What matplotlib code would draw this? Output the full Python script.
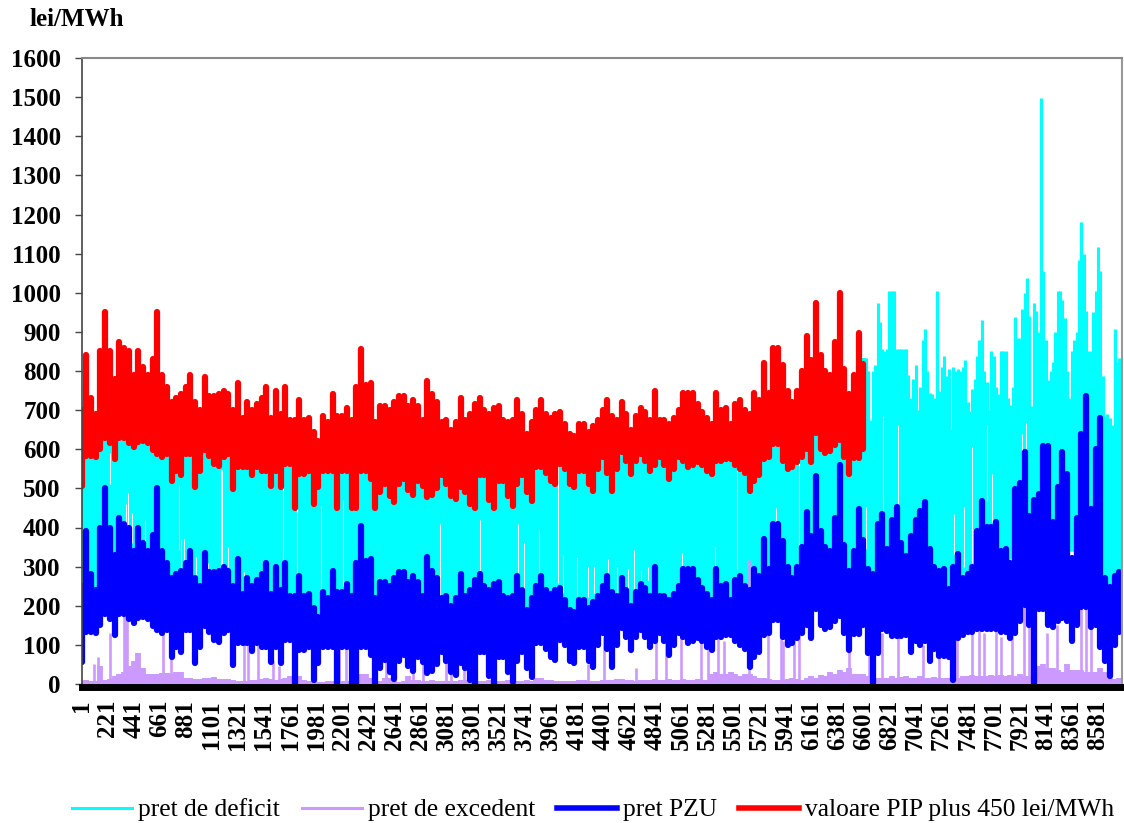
import numpy as np
import matplotlib
matplotlib.use('Agg')
import matplotlib.pyplot as plt
from matplotlib.lines import Line2D

plt.rcParams['font.family'] = ['Liberation Serif', 'DejaVu Serif']

# envelope of each series, one high/low pair per sample
pzu_hi = [250,390,280,240,400,500,400,330,425,410,
          400,340,400,360,340,380,500,340,310,270,
          280,290,310,340,270,250,335,285,285,290,
          300,290,250,320,230,270,250,265,280,310,
          230,300,240,310,225,225,275,225,230,195,
          170,235,220,290,235,235,255,225,310,405,
          315,320,220,260,260,250,270,285,285,260,
          275,260,225,325,290,270,220,225,200,220,
          280,225,240,265,280,250,240,255,260,225,
          220,225,275,240,190,220,250,275,240,230,
          240,245,215,190,185,215,215,195,210,225,
          250,275,235,225,270,240,200,235,255,245,
          225,300,225,225,215,230,250,295,295,295,
          265,245,230,215,295,250,255,215,265,275,
          250,240,295,275,370,295,410,410,365,300,
          270,300,350,440,378,532,390,350,340,424,
          560,355,290,340,447,367,293,282,410,435,
          344,420,452,361,327,378,420,441,464,344,
          300,290,293,242,300,333,270,282,300,390,
          469,401,401,413,339,344,310,498,515,594,
          430,470,486,608,608,413,503,594,537,322,
          424,640,737,447,600,680,270,248,276,287]
pzu_lo = [57,134,134,130,150,180,165,125,180,180,
          165,155,168,172,165,147,138,130,138,70,
          95,83,138,138,53,95,147,134,112,108,
          130,138,49,104,104,104,85,104,95,95,
          57,95,53,112,112,0,87,87,95,10,
          53,95,95,95,0,95,95,0,0,95,
          95,74,0,40,61,30,14,60,74,45,
          32,70,55,27,32,50,83,60,30,23,
          53,40,10,0,83,83,20,0,70,70,
          30,6,60,83,40,19,104,104,90,70,
          61,112,100,60,53,95,95,60,44,100,
          130,90,44,100,142,120,87,120,138,120,
          95,110,130,110,74,100,130,120,104,110,
          117,110,95,87,121,121,125,125,110,100,
          90,44,70,83,125,130,164,164,120,100,
          105,117,130,150,117,191,150,140,145,160,
          174,130,88,128,128,151,80,3,80,140,
          135,123,123,123,125,83,110,100,110,60,
          90,72,72,70,9,117,125,134,134,140,
          140,140,140,140,134,134,117,130,162,202,
          150,3,191,191,150,145,160,168,160,111,
          150,196,196,145,150,94,60,20,100,134]

pip_hi = [700,840,730,690,850,950,850,780,875,860,
          850,790,850,810,790,830,950,790,760,720,
          730,740,760,790,720,700,785,735,735,740,
          750,740,700,770,680,720,700,715,730,760,
          680,750,690,760,675,675,725,675,680,645,
          620,685,670,740,685,685,705,675,760,855,
          765,770,670,710,710,700,720,735,735,710,
          725,710,675,775,740,720,670,675,650,670,
          730,675,690,715,730,700,690,705,710,675,
          670,675,725,690,640,670,700,725,690,680,
          690,695,665,640,635,665,665,645,660,675,
          700,725,685,675,720,690,650,685,705,695,
          675,750,675,675,665,680,700,745,745,745,
          715,695,680,665,745,700,705,665,715,725,
          700,690,745,725,820,745,860,860,815,750,
          720,750,800,890,828,975,840,800,790,874,
          1000,805,740,790,897,817]
pip_lo = [507,584,584,580,600,630,615,575,630,630,
          615,605,618,622,615,597,588,580,588,520,
          545,533,588,588,503,545,597,584,562,558,
          580,588,499,554,554,554,535,554,545,545,
          507,545,503,562,562,450,537,537,545,460,
          503,545,545,545,450,545,545,450,450,545,
          545,524,450,490,511,480,464,510,524,495,
          482,520,505,477,482,500,533,510,480,473,
          503,490,460,450,533,533,470,450,520,520,
          480,456,510,533,490,469,554,554,540,520,
          511,562,550,510,503,545,545,510,494,550,
          580,540,494,550,592,570,537,570,588,570,
          545,560,580,560,524,550,580,570,554,560,
          567,560,545,537,571,571,575,575,560,550,
          540,494,520,533,575,580,614,614,570,550,
          555,567,580,600,567,641,600,590,595,610,
          624,580,538,578,578,601]

# deficit price: first part mostly sits behind the red band
deficit_hi_a = [640,650,650,640,660,680,660,650,680,680,
                680,670,680,670,660,660,680,650,640,630,
                630,640,640,650,630,620,650,640,640,640,
                640,640,620,640,620,620,620,630,630,640,
                610,630,610,630,610,610,620,610,610,600,
                590,610,610,630,610,610,620,600,640,680,
                640,650,600,620,620,610,620,630,630,620,
                620,620,600,640,620,620,600,600,590,600,
                620,600,610,620,620,610,610,620,620,600,
                600,600,620,610,590,600,610,620,610,610,
                610,610,600,590,590,600,600,590,600,600,
                620,630,610,600,620,610,590,610,620,620,
                610,640,620,610,610,620,620,640,640,640,
                630,620,620,610,640,630,630,620,640,640,
                640,620,660,650,700,680,720,740,700,650,
                720,730,690,760,770,820,840,790,760,810,
                840,800,700,780,840,833]
deficit_lo_a = [190,190,190,190,190,190,190,190,190,190,
                190,190,190,190,190,190,190,190,190,190,
                200,200,190,190,190,190,190,190,190,190,
                190,190,190,190,190,190,190,190,190,190,
                190,190,190,190,190,190,190,190,190,190,
                180,190,190,190,190,190,190,190,190,190,
                190,190,190,190,190,190,190,190,190,190,
                190,190,190,190,190,190,190,190,190,190,
                190,190,190,190,190,190,190,190,190,190,
                190,190,190,190,190,190,190,190,190,190,
                190,190,190,190,190,190,190,190,190,190,
                190,190,190,190,190,190,190,190,190,190,
                190,190,190,190,190,190,190,190,190,190,
                190,190,190,190,190,190,190,190,190,190,
                190,190,190,190,190,190,190,190,190,190,
                190,190,190,190,190,190,190,190,190,190,
                190,190,190,190,190,190]
# second part, after the red band stops, read at a finer step
deficit_hi_b = [833,833,800,674,800,815,975,924,856,850,
                856,1004,1004,1004,856,856,856,856,856,790,
                731,780,816,700,760,880,907,800,745,740,
                730,1004,750,810,839,788,805,651,810,800,
                805,800,810,827,720,697,754,780,839,880,
                930,800,771,700,850,839,760,740,850,850,
                850,730,714,760,938,884,884,958,1000,1038,
                941,710,975,953,900,1498,1055,879,776,800,
                822,900,1004,1004,981,936,800,730,850,879,
                900,1083,1180,1100,953,850,850,950,1004,1117,
                1055,788,685,691,680,663,907,822,833,833]
deficit_lo_b = [300,300,300,280,280,280,280,280,280,280,
                280,280,280,280,280,280,280,280,280,280,
                280,280,280,280,280,280,280,280,280,280,
                260,260,250,250,240,250,250,260,260,260,
                260,260,280,280,280,280,280,280,300,300,
                300,300,300,300,300,280,280,280,280,280,
                280,300,320,340,340,340,340,340,340,340,
                340,340,340,340,340,340,340,340,340,340,
                340,340,340,340,340,340,340,340,340,340,
                340,340,340,340,340,340,340,340,300,300,
                260,250,250,250,250,250,250,250,250,250]

# short drops of the deficit price, visible as white slits
gap_hours = [243,378,392,429,535,822,842,870,969,1067,1180,1188,1236,1371,1700,
             1821,2023,2207,2507,3027,3367,3682,3739,3865,4020,4062,4180,4279,4329,
             4442,4518,4611,4661,4723,4780,5069,5348,5530,5863,6059,6621,6770,6889,
             7367,7451,7516,7648,7690,7943,7972]
gap_top = [590,460,487,436,420,505,370,370,325,310,547,547,350,285,505,
           480,455,470,270,410,420,410,360,394,555,330,325,300,300,
           320,300,295,342,290,300,335,351,590,449,564,452,685,663,
           435,452,606,663,538,640,668]
gap_bottom = [510,350,350,360,350,342,285,285,275,265,300,300,300,250,310,
              280,225,250,225,215,265,283,223,198,257,232,223,223,232,
              257,232,205,232,265,265,300,300,291,410,334,344,435,458,
              333,299,310,469,413,594,594]

excedent_base = [8,10,8,8,45,10,12,20,25,30,
                 45,60,80,40,25,25,25,28,28,25,
                 30,30,15,15,12,12,15,15,18,12,
                 12,12,10,8,8,8,10,10,12,15,
                 12,10,12,15,20,15,20,10,8,8,
                 5,5,8,8,8,8,8,8,10,25,
                 25,15,10,8,15,15,8,5,8,20,
                 10,10,8,8,10,8,8,8,8,8,
                 10,10,10,8,8,8,10,10,8,8,
                 10,8,8,8,10,8,15,15,10,10,
                 8,8,8,8,8,10,10,8,8,8,
                 10,10,10,12,12,10,10,8,10,10,
                 10,12,10,10,12,10,10,12,10,10,
                 12,10,10,25,30,25,25,30,25,20,
                 25,25,20,15,15,12,10,10,10,12,
                 15,12,10,15,20,15,22,20,30,25,
                 35,30,40,25,25,25,20,15,15,15,
                 15,20,15,18,20,15,15,20,15,15,
                 18,15,15,15,15,15,20,20,22,20,
                 20,20,22,20,22,20,22,20,25,20,
                 20,50,45,50,40,40,35,30,50,35,
                 35,35,30,30,30,40,30,15,12,15]
spike_hours = [110,138,243,360,372,385,687,758,1376,1404,1489,1615,1672,2178,2235,
               2571,2796,2881,3078,3120,3232,4273,4414,4681,4850,4934,5061,5230,5286,
               5370,5426,5637,5792,5904,5919,6017,6059,6481,6650,6762,6889,7100,7240,
               7339,7395,7522,7578,7620,7718,7761,7859,7958,8000,8154,8239,8436,8478,8520]
spike_top = [50,70,130,180,190,180,130,130,110,110,100,60,45,100,100,
             60,60,110,100,90,60,50,120,40,130,130,130,110,110,
             120,110,317,130,230,110,150,150,170,200,130,150,100,70,
             120,120,150,150,130,150,120,130,200,200,130,150,200,200,200]

x_labels = list(range(1, 8582, 220))
y_labels = list(range(0, 1601, 100))
series_names = ['pret de deficit', 'pret de excedent', 'pret PZU', 'valoare PIP plus 450 lei/MWh']

hours = 1 + 40 * np.arange(len(pzu_hi))
hours_b = 6601 + 20 * np.arange(len(deficit_hi_b))

fig = plt.figure(figsize=(11.24, 8.23), dpi=100)
ax = fig.add_axes([81.5 / 1124, 1 - 684 / 823, (1122 - 81.5) / 1124, (684 - 58) / 823])

# each sample is one vertical run, the runs overlap into a solid band
ax.vlines(hours[:len(deficit_hi_a)], deficit_lo_a, deficit_hi_a, color='#00FFFF', lw=4.2, zorder=1)
ax.vlines(hours_b, deficit_lo_b, deficit_hi_b, color='#00FFFF', lw=2.2, zorder=1)
ax.vlines(gap_hours, gap_bottom, gap_top, color='white', lw=0.75, zorder=1.2)

ax.vlines(hours, 0, excedent_base, color='#CC99FF', lw=4.2, zorder=1.4)
ax.vlines(spike_hours, 0, spike_top, color='#CC99FF', lw=1.9, zorder=1.4)

ax.vlines(hours, pzu_lo, pzu_hi, color='#0000FF', lw=4.5, capstyle='round', zorder=1.6)
ax.vlines(hours[:len(pip_hi)], pip_lo, pip_hi, color='#FF0000', lw=4.5, capstyle='round', zorder=1.8)

# set_position resets the ticks, so it has to come before the labels
ax.spines['left'].set_color('#444444')
ax.spines['left'].set_linewidth(1.2)
ax.spines['top'].set_color('#888888')
ax.spines['top'].set_linewidth(1.5)
ax.spines['right'].set_color('#999999')
ax.spines['right'].set_linewidth(1.5)
ax.spines['bottom'].set_color('black')
ax.spines['bottom'].set_linewidth(5)
ax.spines['bottom'].set_position(('outward', 2.5))

ax.set_xlim(1, 8784)
ax.set_ylim(0, 1600)
ax.set_xticks(x_labels)
ax.set_xticklabels(x_labels, rotation=90, fontsize=18, fontweight='bold')
ax.set_yticks(y_labels)
ax.set_yticklabels(y_labels, fontsize=18, fontweight='bold')
ax.tick_params(axis='x', length=0, pad=9)
ax.tick_params(axis='y', length=5, width=1, color='#444444', pad=10)

fig.text(30 / 1124, 1 - 20 / 823, 'lei/MWh', fontsize=18, fontweight='bold', va='center')

handles = [Line2D([], [], color='#00FFFF', lw=2.2),
           Line2D([], [], color='#CC99FF', lw=2.2),
           Line2D([], [], color='#0000FF', lw=4),
           Line2D([], [], color='#FF0000', lw=4)]
fig.legend(handles, series_names, loc='center', bbox_to_anchor=(593 / 1124, 1 - 810 / 823), ncol=4,
           frameon=False, fontsize=18.4, handlelength=2.35, handletextpad=0.24, columnspacing=0.85)

fig.savefig('out.png', dpi=100)
